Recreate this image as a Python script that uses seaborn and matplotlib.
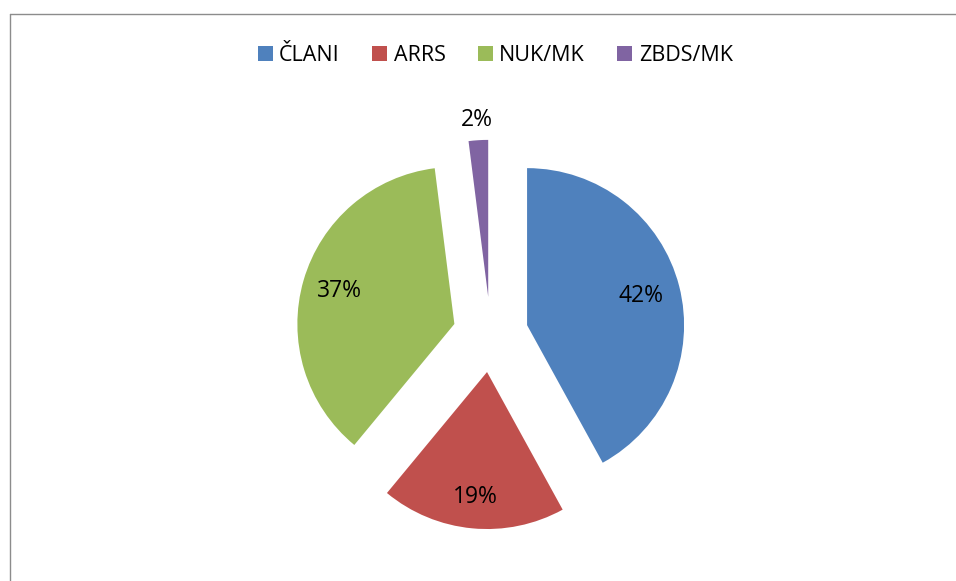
import matplotlib
matplotlib.use("Agg")
import numpy as np
import matplotlib.pyplot as plt
import seaborn as sns
from matplotlib.lines import Line2D
from matplotlib.patches import Patch

# data
categories = ["ČLANI", "ARRS", "NUK/MK", "ZBDS/MK"]
shares = [42, 19, 37, 2]
colors = ["#4F81BD", "#C0504D", "#9BBB59", "#8064A2"]

sns.set_theme(style="white")
plt.rcParams['font.family'] = ['Open Sans', 'DejaVu Sans']
palette = sns.color_palette(colors)

fig = plt.figure(figsize=(9.56, 5.81), dpi=100)
ax = fig.add_axes([0.2668, 0.0189, 0.4927, 0.8107])

wedges, texts, autotexts = ax.pie(
    shares, colors=palette, startangle=90, counterclock=False,
    explode=[0.24] * len(shares), autopct='%1.0f%%', pctdistance=0.75,
    wedgeprops=dict(linewidth=0), textprops=dict(fontsize=16.5, color='black'))
ax.set_xlim(-1.5, 1.5)
ax.set_ylim(-1.5, 1.5)
ax.set_aspect('equal')

# label distance from each slice's tip (the small one sits outside)
label_dist = [0.75, 0.80, 0.76, 1.13]
for w, t, d in zip(wedges, autotexts, label_dist):
    mid = np.deg2rad((w.theta1 + w.theta2) / 2)
    cx, cy = w.center
    t.set_position((cx + d * np.cos(mid), cy + d * np.sin(mid)))

# legend on top
handles = [Patch(facecolor=c, edgecolor='none') for c in palette]
fig.legend(handles, categories, loc='center', bbox_to_anchor=(0.518, 0.904),
           ncol=4, frameon=False, fontsize=15.5, labelcolor='black',
           handlelength=0.7, handleheight=0.7, handletextpad=0.3,
           columnspacing=1.5)

# chart area border (left and top edges visible)
fig.add_artist(Line2D([9.5 / 956, 9.5 / 956], [0, 1 - 13.5 / 581],
                      transform=fig.transFigure, color='#8c8c8c', lw=1.0))
fig.add_artist(Line2D([9.5 / 956, 1], [1 - 13.5 / 581, 1 - 13.5 / 581],
                      transform=fig.transFigure, color='#8c8c8c', lw=1.0))

fig.savefig('out.png', dpi=100)
